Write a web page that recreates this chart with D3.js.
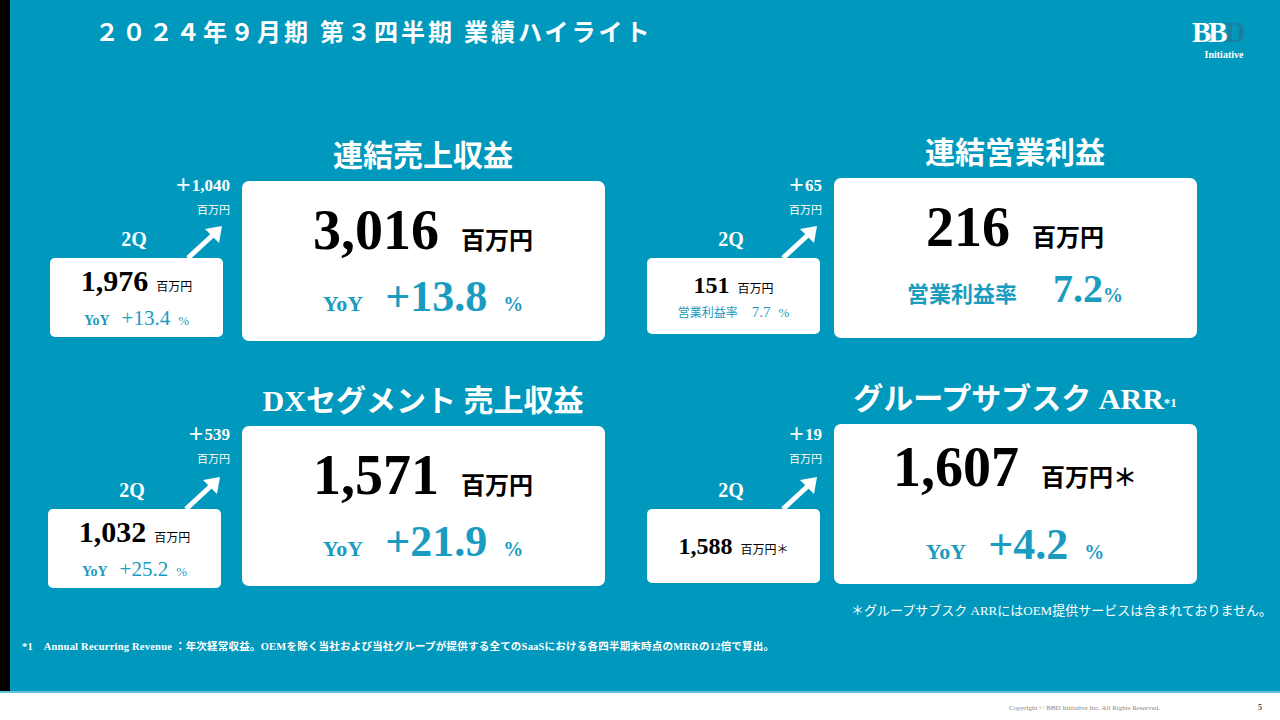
<!DOCTYPE html><html><head><meta charset="utf-8">
<script src="https://cdn.jsdelivr.net/npm/d3@7"></script>
<style>body{margin:0;background:#fff}svg{display:block}text{font-family:"Liberation Serif","DejaVu Serif","Noto Sans CJK JP",serif}</style></head><body>
<svg id="c" width="1280" height="720"></svg>
<script>
const titles=["連結売上収益","連結営業利益","DXセグメント 売上収益","グループサブスク ARR"];
const currentValues=[3016,216,1571,1607];
const currentSub=["+13.8","7.2","+21.9","+4.2"];
const subLabels=["YoY","営業利益率","YoY","YoY"];
const prevValues=[1976,151,1032,1588];
const prevSub=["+13.4","7.7","+25.2",null];
const deltas=[1040,65,539,19];
const fmt=d3.format(",");
const svg=d3.select("#c");
svg.append("rect").attr("width",1280).attr("height",693).attr("fill","#0099bd");
svg.append("rect").attr("width",10).attr("height",693).attr("fill","#000");
svg.append("rect").attr("y",691).attr("width",1280).attr("height",2).attr("fill","#5fc3dc");
svg.append("text").attr("x",95).attr("y",41).attr("fill","#fff").attr("font-size",24).attr("font-weight","bold").attr("letter-spacing",3).text("２０２４年９月期 第３四半期 業績ハイライト");
// logo
const lg=svg.append("text").attr("x",1192).attr("y",42).attr("font-size",29).attr("font-weight","bold").attr("letter-spacing",-3);
lg.append("tspan").attr("fill","#fff").text("BB");
lg.append("tspan").attr("fill","#1a7fa0").text("D");
svg.append("text").attr("x",1224).attr("y",58).attr("text-anchor","middle").attr("fill","#fff").attr("font-size",10).attr("font-family","Roboto").attr("font-weight","bold").text("Initiative");
const teal="#1a9bc0";
const panels=[{x:242,y:181,sx:50,sy:258,dy:186},{x:834,y:178,sx:647,sy:258,dy:186},{x:242,y:426,sx:48,sy:509,dy:435},{x:834,y:424,sx:647,sy:509,dy:435}];
panels.forEach((p,i)=>{
  const g=svg.append("g");
  g.append("rect").attr("x",p.x).attr("y",p.y).attr("width",363).attr("height",160).attr("rx",7).attr("fill","#fff");
  const t=g.append("text").attr("x",p.x+181).attr("y",p.y-15).attr("text-anchor","middle").attr("fill","#fff").attr("font-size",30).attr("font-weight","bold").attr("font-family","Noto Sans CJK JP").text(titles[i]);
  if(i==3)t.append("tspan").attr("font-size",13).attr("dy",-2).text("*1");
  const big=g.append("text").attr("x",p.x+181).attr("y",p.y+(i==3?62:68)).attr("text-anchor","middle").attr("fill","#000");
  big.append("tspan").attr("font-size",56).attr("font-weight","bold").text(fmt(currentValues[i]));
  big.append("tspan").attr("dx",22).attr("font-size",24).attr("font-weight","bold").attr("font-family","Noto Sans CJK JP").text("百万円"+(i==3?"＊":""));
  const s=g.append("text").attr("x",p.x+181).attr("y",p.y+(i==3?135:(i==1?124:130))).attr("text-anchor","middle").attr("fill",teal).attr("font-weight","bold");
  s.append("tspan").attr("font-size",22).attr("font-family",i==1?"Noto Sans CJK JP":null).text(subLabels[i]);
  s.append("tspan").attr("dx",i==1?36:22).attr("font-size",i==1?40:44).text(currentSub[i]);
  s.append("tspan").attr("dx",i==1?0:16).attr("font-size",20).text("%");
  const sw=173,sh=(i==1?76:(i==3?74:79));
  g.append("rect").attr("x",p.sx).attr("y",p.sy).attr("width",sw).attr("height",sh).attr("rx",5).attr("fill","#fff");
  g.append("text").attr("x",p.sx+84).attr("y",p.sy-12).attr("text-anchor","middle").attr("fill","#fff").attr("font-size",20).attr("font-weight","bold").text("2Q");
  const pv=g.append("text").attr("x",p.sx+sw/2).attr("y",p.sy+(i==3?45:(i==1?35:33))).attr("text-anchor","middle").attr("fill","#000");
  pv.append("tspan").attr("font-size",i==3||i==1?24:30).attr("font-weight","bold").text(fmt(prevValues[i]));
  pv.append("tspan").attr("dx",8).attr("font-size",12).attr("font-family","Noto Sans CJK JP").text("百万円"+(i==3?"＊":""));
  if(prevSub[i]){
    const ps=g.append("text").attr("x",p.sx+sw/2).attr("y",p.sy+(i==1?59:67)).attr("text-anchor","middle").attr("fill",teal);
    ps.append("tspan").attr("font-size",i==1?12:14).attr("font-weight",i==1?null:"bold").attr("font-family",i==1?"Noto Sans CJK JP":null).text(subLabels[i]);
    ps.append("tspan").attr("dx",i==1?14:12).attr("font-size",i==1?15:21).text(prevSub[i]);
    ps.append("tspan").attr("dx",8).attr("font-size",13).text("%");
  }
  const ax=p.sx+(i%2==0?138:136), ay=p.sy;
  g.append("line").attr("x1",ax).attr("y1",ay).attr("x2",ax+26).attr("y2",ay-24).attr("stroke","#fff").attr("stroke-width",5);
  g.append("path").attr("d",`M${ax+34},${ay-32} l-17,3 l14,14 z`).attr("fill","#fff");
  g.append("text").attr("x",p.x-12).attr("y",p.dy+5).attr("text-anchor","end").attr("fill","#fff").attr("font-size",17).attr("font-weight","bold").text("＋"+fmt(deltas[i]));
  g.append("text").attr("x",p.x-12).attr("y",p.dy+28).attr("text-anchor","end").attr("fill","#fff").attr("font-size",11).attr("font-family","Noto Sans CJK JP").text("百万円");
});
svg.append("text").attr("x",1272).attr("y",615).attr("text-anchor","end").attr("fill","#fff").attr("font-size",13).attr("font-family","Noto Sans CJK JP").text("＊グループサブスク ARRにはOEM提供サービスは含まれておりません。");
svg.append("text").attr("x",22).attr("y",650).attr("fill","#fff").attr("font-size",10.5).attr("font-weight","bold").attr("textLength",752).text("*1　Annual Recurring Revenue ：年次経常収益。OEMを除く当社および当社グループが提供する全てのSaaSにおける各四半期末時点のMRRの12倍で算出。");
svg.append("text").attr("x",1160).attr("y",710).attr("text-anchor","end").attr("fill","#888").attr("font-size",7).attr("font-family","Roboto").text("Copyright © BBD Initiative Inc. All Rights Reserved.");
svg.append("text").attr("x",1262).attr("y",710).attr("text-anchor","end").attr("fill","#444").attr("font-size",8).attr("font-family","Roboto").attr("font-weight","bold").text("5");
</script></body></html>
